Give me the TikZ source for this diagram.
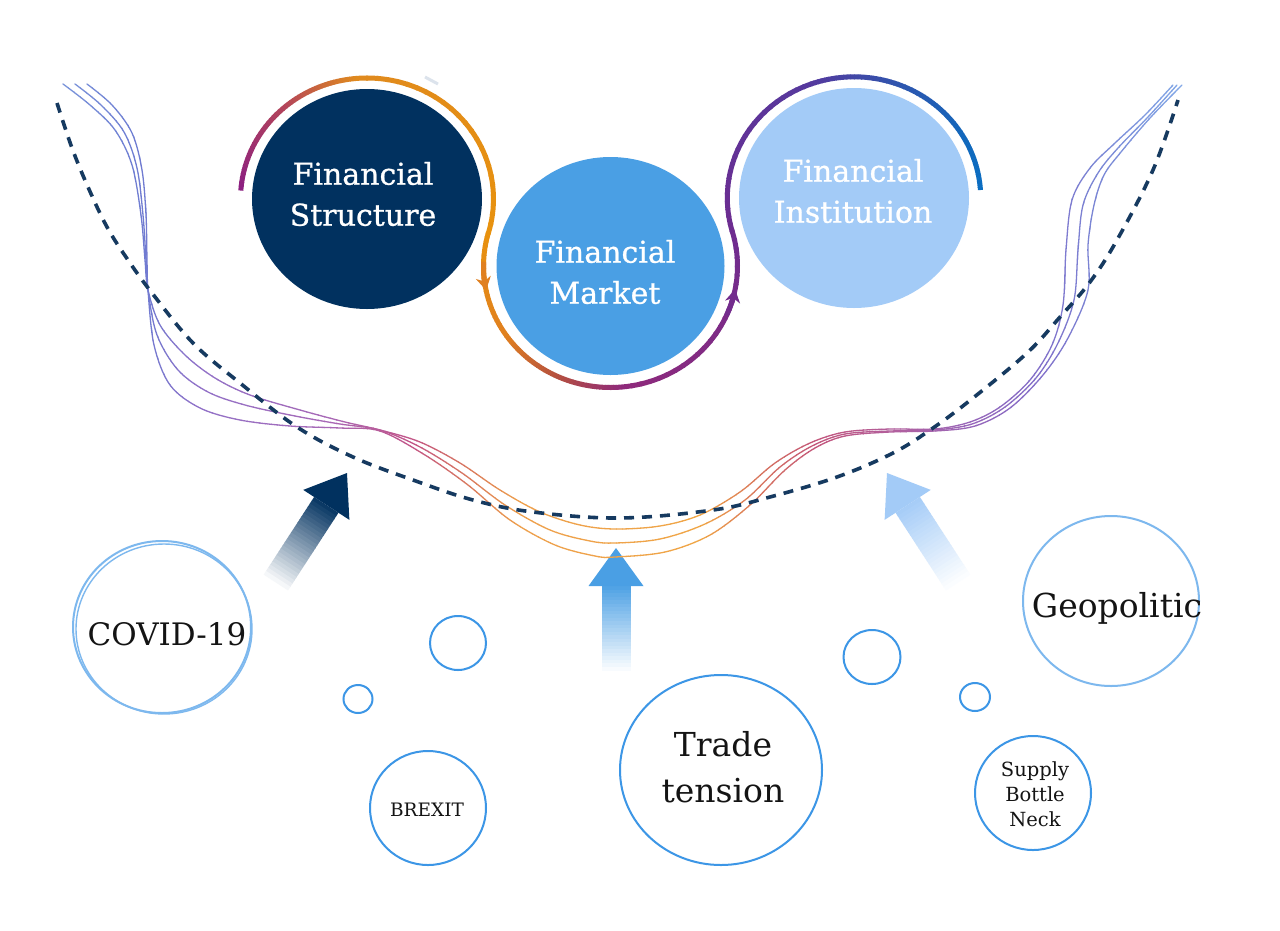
\documentclass[tikz,border=0pt]{standalone}
\usepackage{fontspec}
\setmainfont{DejaVu Serif}
\newfontfamily\titlefont[FakeBold=0.8]{DejaVu Serif}
\usetikzlibrary{arrows.meta}
\definecolor{navy}{HTML}{01315F}
\definecolor{midblue}{HTML}{4A9FE4}
\definecolor{lightblue}{HTML}{A3CBF7}
\definecolor{dashnavy}{HTML}{163A60}
\definecolor{bub}{HTML}{3C96E6}
\definecolor{bublight}{HTML}{7DB8EE}
\definecolor{tickgray}{HTML}{DCE3EC}
% ring colours
\definecolor{rpA}{HTML}{8A1E82}
\definecolor{rrA}{HTML}{B4455A}
\definecolor{roA}{HTML}{E08A1E}
\definecolor{roB}{HTML}{E8920E}
\definecolor{roC}{HTML}{E08020}
\definecolor{rbr}{HTML}{B5503F}
\definecolor{rpm}{HTML}{8F2A7B}
\definecolor{rpB}{HTML}{6E2C90}
\definecolor{rpC}{HTML}{55399E}
\definecolor{rbA}{HTML}{2F55AE}
\definecolor{rbB}{HTML}{1268BC}
\definecolor{rbC}{HTML}{0A6EC2}
% wave colours
\definecolor{w01}{HTML}{7C98DC}
\definecolor{w02}{HTML}{6E7CD2}
\definecolor{w03}{HTML}{9272C8}
\definecolor{w04}{HTML}{A868B6}
\definecolor{w05}{HTML}{C25488}
\definecolor{w06}{HTML}{DA7A5C}
\definecolor{w07}{HTML}{EEA04C}
\definecolor{w08}{HTML}{F0A646}
\definecolor{w09}{HTML}{D8745C}
\definecolor{w10}{HTML}{C2567E}
\definecolor{w11}{HTML}{B060A0}
\definecolor{w12}{HTML}{9866BA}
\definecolor{w13}{HTML}{8270CA}
\definecolor{w14}{HTML}{7A84D4}
\definecolor{w15}{HTML}{84AEEA}
\tikzset{
  bigarc/.style={line width=5pt},
  wave/.style={line width=1.3pt, line cap=round},
  dashcurve/.style={line width=3.6pt, dash pattern=on 10pt off 8pt, color=dashnavy},
  bubble/.style={draw=bub, line width=2pt},
  title/.style={text=white, align=center, font=\titlefont\fontsize{30}{41}\selectfont},
  lbl/.style={text=black!92, align=center},
}
\newcommand\garc[8]{%
  \foreach \gi in {1,...,24}{%
    \pgfmathsetmacro\sa{#5+(#6-#5)*(\gi-1)/24}%
    \pgfmathsetmacro\ea{#5+(#6-#5)*(\gi+0.2)/24}%
    \pgfmathtruncatemacro\pc{100*(\gi-0.5)/24}%
    \draw[bigarc, color=#8!\pc!#7, shift={(#1,#2)}] (\sa:#3 and #4) arc[start angle=\sa, end angle=\ea, x radius=#3, y radius=#4];
  }}
\newcommand\blockarrow[6]{%
  \begin{scope}[shift={(#1,#2)}, rotate=#3]
    \foreach \gi in {1,...,24}{%
      \pgfmathsetmacro\ya{#6+#5*(\gi-1)/24}%
      \pgfmathsetmacro\yb{#6+#5*\gi/24+0.6}%
      \pgfmathtruncatemacro\pc{100-4*\gi}%
      \fill[#4!\pc!white] (-14.5,\ya) rectangle (14.5,\yb);
    }
    \fill[#4] (0,0) -- (27.5,#6) -- (-27.5,#6) -- cycle;
  \end{scope}}
\newcommand\drawwaves[1]{%
  \draw[wave,#1] plot[smooth,tension=0.55] coordinates {(63,84) (90,105) (115,130) (132,165) (141,215) (145,260) (148,290) (160,325) (185,355) (215,378) (250,395) (300,410) (345,422) (380,430) (420,442) (460,463) (500,490) (540,512) (580,525) (615,529) (660,526) (700,515) (740,492) (775,463) (810,443) (845,432) (890,429) (935,429) (970,422) (1000,407) (1030,380) (1052,345) (1063,305) (1066,250) (1072,200) (1090,168) (1115,143) (1145,115) (1173,85)};
  \draw[wave,#1] plot[smooth,tension=0.55] coordinates {(75,84) (101,105) (124,132) (137,168) (143,215) (146,260) (148,290) (157,335) (178,370) (208,392) (245,405) (295,416) (340,424) (380,430) (420,447) (462,473) (505,505) (550,530) (590,541) (615,543) (660,539) (705,524) (745,500) (780,467) (812,446) (845,434) (890,431) (935,430) (972,424) (1005,407) (1036,378) (1058,343) (1074,300) (1078,250) (1083,205) (1098,173) (1118,148) (1148,117) (1177,85)};
  \draw[wave,#1] plot[smooth,tension=0.55] coordinates {(87,84) (112,105) (132,133) (142,170) (146,215) (147,260) (148,290) (154,345) (170,385) (200,408) (240,420) (290,426) (340,428) (380,431) (425,455) (468,485) (510,520) (555,545) (595,556) (615,557) (665,552) (710,535) (750,505) (785,470) (815,448) (845,436) (890,432) (935,431) (975,426) (1010,408) (1043,375) (1068,338) (1088,290) (1088,245) (1094,205) (1104,175) (1121,152) (1150,118) (1182,85)};
}
\newcommand\wseg[4]{%
  \pgfmathtruncatemacro\nst{max(1,round((#2-#1)/6))}%
  \foreach \gi in {1,...,\nst}{%
    \pgfmathsetmacro\xa{#1+(#2-#1)*(\gi-1)/\nst}%
    \pgfmathsetmacro\xb{#1+(#2-#1)*\gi/\nst+0.7}%
    \pgfmathtruncatemacro\pc{100*(\gi-0.5)/\nst}%
    \begin{scope}\clip (\xa,0) rectangle (\xb,930);\drawwaves{color=#4!\pc!#3}\end{scope}%
  }}
\begin{document}
\begin{tikzpicture}[x=1pt,y=-1pt]
\useasboundingbox (0,0) rectangle (1280,930);
\fill[white] (0,0) rectangle (1280,930);

% block arrows
\blockarrow{347}{473}{-33}{navy}{92}{38}
\blockarrow{616}{548}{0}{midblue}{84}{38}
\blockarrow{887}{473}{33}{lightblue}{92}{38}

% wave lines
\wseg{50}{140}{w01}{w02}
\wseg{140}{200}{w02}{w03}
\wseg{200}{330}{w03}{w04}
\wseg{330}{410}{w04}{w05}
\wseg{410}{470}{w05}{w06}
\wseg{470}{520}{w06}{w07}
\wseg{520}{700}{w07}{w08}
\wseg{700}{760}{w08}{w09}
\wseg{760}{820}{w09}{w10}
\wseg{820}{900}{w10}{w11}
\wseg{900}{970}{w11}{w12}
\wseg{970}{1040}{w12}{w13}
\wseg{1040}{1090}{w13}{w14}
\wseg{1090}{1195}{w14}{w15}

% dashed curve
\draw[dashcurve] plot[smooth,tension=0.6] coordinates {(57,103) (72,148) (88,187) (107,227) (128,260) (152,293) (193,343) (240,383) (297,427) (353,457) (413,480) (473,500) (533,512) (620,518) (713,510) (770,497) (837,477) (893,453) (933,428) (973,398) (1027,353) (1060,317) (1090,282) (1117,240) (1153,170) (1178,100)};

% top circles
\fill[navy] (367,199) ellipse [x radius=115, y radius=110];
\fill[midblue] (610.5,266) ellipse [x radius=114, y radius=109];
\fill[lightblue] (854,198) ellipse [x radius=115, y radius=110];

% gradient ring
\garc{367}{199}{126.5}{121}{-176}{-130}{rpA}{rrA}
\garc{367}{199}{126.5}{121}{-130}{-95}{rrA}{roA}
\garc{367}{199}{126.5}{121}{-95}{16}{roA}{roB}
\garc{610.5}{266}{127}{121.5}{-164}{-215}{roB}{roC}
\garc{610.5}{266}{127}{121.5}{-215}{-245}{roC}{rbr}
\garc{610.5}{266}{127}{121.5}{-245}{-275}{rbr}{rpm}
\garc{610.5}{266}{127}{121.5}{-275}{-376.3}{rpm}{rpB}
\garc{854}{198}{126.7}{121.2}{-196.3}{-110}{rpB}{rpC}
\garc{854}{198}{126.7}{121.2}{-110}{-70}{rpC}{rbA}
\garc{854}{198}{126.7}{121.2}{-70}{-30}{rbA}{rbB}
\garc{854}{198}{126.7}{121.2}{-30}{-4}{rbB}{rbC}
\draw[bigarc, color=roC, -{Stealth[length=13pt,width=15pt,inset=4pt]}, shift={(610.5,266)}] (-178:127 and 121.5) arc[start angle=-178, end angle=-191.5, x radius=127, y radius=121.5];
\draw[bigarc, color=rpB!85!rpm, -{Stealth[length=13pt,width=15pt,inset=4pt]}, shift={(610.5,266)}] (-336:127 and 121.5) arc[start angle=-336, end angle=-349, x radius=127, y radius=121.5];
\draw[line width=3pt, color=tickgray] (425,77) -- (438,84);

% titles
\node[title] (fs) at (363,194) {Financial\\Structure};
\node[title] (fm) at (605,272) {Financial\\Market};
\node[title] (fi) at (853,191) {Financial\\Institution};

% bubbles
\draw[bubble, draw=bublight] (162,627) ellipse [x radius=89, y radius=86];
\draw[bubble, draw=bublight, line width=1.4pt] (164,629) ellipse [x radius=88, y radius=85];
\draw[bubble] (458,643) ellipse [x radius=28, y radius=27];
\draw[bubble] (358,699) ellipse [x radius=14.5, y radius=14];
\draw[bubble] (428,808) ellipse [x radius=58, y radius=57];
\draw[bubble] (721,770) ellipse [x radius=101, y radius=95];
\draw[bubble] (872,657) ellipse [x radius=28.5, y radius=27];
\draw[bubble] (975,697) ellipse [x radius=15, y radius=14];
\draw[bubble, draw=bublight] (1111,601) ellipse [x radius=88, y radius=85];
\draw[bubble] (1033,793) ellipse [x radius=58, y radius=57];

\node[lbl, font=\fontsize{31}{36}\selectfont] (covid) at (167,634) {COVID-19};
\node[lbl, font=\fontsize{18.5}{22}\selectfont] (brexit) at (427,810) {BREXIT};
\node[lbl, font=\fontsize{33}{46}\selectfont] (trade) at (723,767) {Trade\\tension};
\node[lbl, font=\fontsize{33}{38}\selectfont] (geo) at (1117,608) {Geopolitic};
\node[lbl, font=\fontsize{19.5}{25}\selectfont] (supply) at (1035,794) {Supply\\Bottle\\Neck};
\end{tikzpicture}
\end{document}
